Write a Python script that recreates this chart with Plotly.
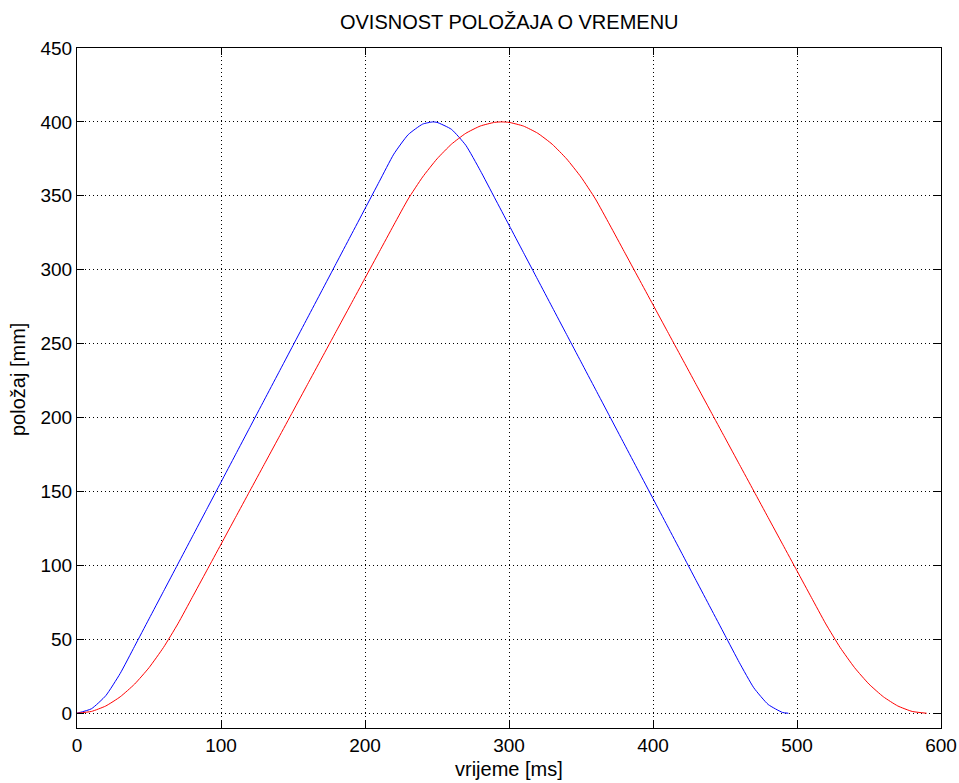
import plotly.graph_objects as go

# time [ms] and position [mm]
t_blue = [0, 10, 20, 30, 40, 50, 60, 70, 80, 90, 100, 110, 120, 130, 140, 150, 160, 170, 180, 190,
          200, 210, 220, 230, 240, 247, 250, 260, 270, 280, 290, 300, 310, 320, 330, 340, 350, 360,
          370, 380, 390, 400, 410, 420, 430, 440, 450, 460, 470, 480, 490, 494]
y_blue = [0, 3.0, 11.9, 26.9, 45.3, 63.8, 82.3, 100.8, 119.3, 137.8, 156.3, 174.8, 193.3, 211.8,
          230.3, 248.8, 267.3, 285.8, 304.3, 322.8, 341.3, 359.8, 378.2, 391.4, 398.5, 400.0, 399.7,
          395.0, 384.2, 367.2, 348.7, 330.2, 311.7, 293.2, 274.7, 256.2, 237.7, 219.2, 200.7, 182.2,
          163.7, 145.2, 126.7, 108.2, 89.7, 71.2, 52.7, 34.2, 17.2, 5.9, 0.5, 0]

t_red = [0, 10, 20, 30, 40, 50, 60, 70, 80, 90, 100, 110, 120, 130, 140, 150, 160, 170, 180, 190,
         200, 210, 220, 230, 240, 250, 260, 270, 280, 290, 295, 300, 310, 320, 330, 340, 350, 360,
         370, 380, 390, 400, 410, 420, 430, 440, 450, 460, 470, 480, 490, 500, 510, 520, 530, 540,
         550, 560, 570, 580, 590]
y_red = [0, 1.2, 4.9, 11.1, 19.7, 30.8, 44.4, 60.4, 78.3, 96.3, 114.3, 132.3, 150.3, 168.3, 186.3,
         204.3, 222.3, 240.3, 258.3, 276.3, 294.3, 312.3, 330.3, 347.9, 362.7, 375.0, 384.9, 392.3,
         397.2, 399.7, 400.0, 399.7, 397.2, 392.3, 384.9, 375.0, 362.7, 347.9, 330.3, 312.3, 294.3,
         276.3, 258.3, 240.3, 222.3, 204.3, 186.3, 168.3, 150.3, 132.3, 114.3, 96.3, 78.3, 60.4,
         44.4, 30.8, 19.7, 11.1, 4.9, 1.2, 0]

x_ticks = [0, 100, 200, 300, 400, 500, 600]
y_ticks = [0, 50, 100, 150, 200, 250, 300, 350, 400, 450]

title_text = "OVISNOST POLOŽAJA O VREMENU"
x_title = "vrijeme [ms]"
y_title = "položaj [mm]"

FONT = "Liberation Sans, Arial, sans-serif"
FS = 19
FS_T = 20

fig = go.Figure()
fig.add_trace(go.Scatter(x=t_blue, y=y_blue, mode="lines",
                         line=dict(color="#0000FF", width=1, shape="spline", smoothing=0.5),
                         showlegend=False))
fig.add_trace(go.Scatter(x=t_red, y=y_red, mode="lines",
                         line=dict(color="#FF0000", width=1, shape="spline", smoothing=0.5),
                         showlegend=False))

axis_common = dict(
    showline=True, linecolor="black", linewidth=1, mirror="allticks",
    ticks="inside", ticklen=7, tickcolor="black", tickwidth=1,
    showgrid=True, gridcolor="black", gridwidth=1, griddash="1px,3px",
    zeroline=False, automargin=False,
    tickfont=dict(family=FONT, size=FS, color="black"),
)

fig.update_xaxes(range=[0, 600], tickvals=x_ticks, ticktext=[str(v) for v in x_ticks],
                 **axis_common)
fig.update_yaxes(range=[-10, 450], tickvals=y_ticks, ticktext=[str(v) for v in y_ticks],
                 **axis_common)

fig.update_layout(
    width=959, height=783,
    margin=dict(l=77, r=18, t=48, b=55),
    paper_bgcolor="white", plot_bgcolor="white",
    title=dict(text=title_text, x=0.531, xanchor="center", y=1 - 22 / 783, yanchor="middle",
               font=dict(family=FONT, size=FS_T, color="black")),
    annotations=[
        dict(text=x_title, xref="paper", yref="paper", x=0.5, y=-(769 - 728) / 680,
             xanchor="center", yanchor="middle", showarrow=False,
             font=dict(family=FONT, size=FS_T, color="black")),
        dict(text=y_title, xref="paper", yref="paper", x=-(77 - 18) / 864, y=(728 - 380) / 680,
             xanchor="center", yanchor="middle", textangle=-90, showarrow=False,
             font=dict(family=FONT, size=FS_T, color="black")),
    ],
)

fig.write_html("out.html", config={"displayModeBar": False},
               post_script="document.body.style.margin='0';document.body.style.padding='0';")
